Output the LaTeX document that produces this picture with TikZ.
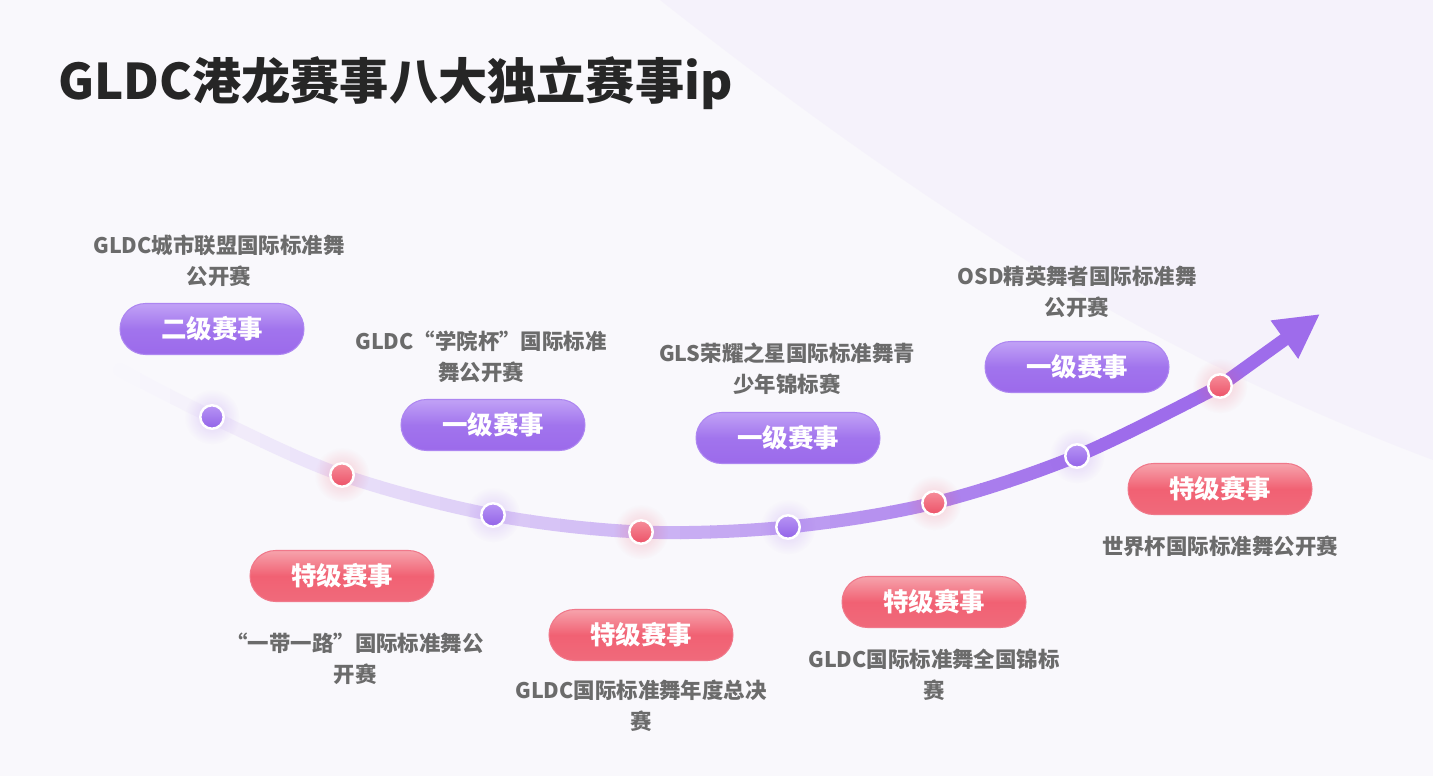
\documentclass[tikz,border=0pt]{standalone}
\usepackage{fontspec}
\setmainfont{Noto Sans CJK SC}
\usetikzlibrary{arrows.meta,fadings}

\definecolor{bgcol}{HTML}{F9F8FC}
\definecolor{bgright}{HTML}{F5F2FB}
\definecolor{titlecol}{HTML}{262626}
\definecolor{labcol}{HTML}{6B6B6B}
\definecolor{trackcol}{HTML}{9E6CEB}
\definecolor{pillptop}{HTML}{C1A2F6}
\definecolor{pillpmid}{HTML}{A174ED}
\definecolor{pillpbot}{HTML}{9C6AEB}
\definecolor{pillpedge}{HTML}{AD86F1}
\definecolor{pillrtop}{HTML}{F6A3AC}
\definecolor{pillrmid}{HTML}{F16173}
\definecolor{pillrbot}{HTML}{F06A7B}
\definecolor{pillredge}{HTML}{F0788A}
\definecolor{dotptop}{HTML}{B794F4}
\definecolor{dotpbot}{HTML}{9263E8}
\definecolor{dotrtop}{HTML}{F68E9A}
\definecolor{dotrbot}{HTML}{EC5167}

\tikzfading[name=softglow, inner color=transparent!72, outer color=transparent!100]

\begin{document}
\begin{tikzpicture}[
  x=0.02cm, y=-0.02cm,
  line cap=round,
  line join=round,
  track/.style={
    line width=7.4pt
  },
  pillp/.style={
    rounded corners=0.51cm,
    minimum width=3.68cm,
    minimum height=1.02cm,
    inner sep=0pt,
    draw=pillpedge,
    line width=0.6pt,
    top color=pillptop,
    bottom color=pillpbot,
    middle color=pillpmid,
    text=white,
    font=\fontsize{14.5}{14.5}\selectfont\bfseries
  },
  pillr/.style={
    rounded corners=0.51cm,
    minimum width=3.68cm,
    minimum height=1.02cm,
    inner sep=0pt,
    draw=pillredge,
    line width=0.6pt,
    top color=pillrtop,
    bottom color=pillrbot,
    middle color=pillrmid,
    text=white,
    font=\fontsize{14.5}{14.5}\selectfont\bfseries
  },
  dotp/.style={
    circle,
    draw=white,
    line width=1.4pt,
    minimum size=0.47cm,
    inner sep=0pt,
    top color=dotptop,
    bottom color=dotpbot
  },
  dotr/.style={
    circle,
    draw=white,
    line width=1.4pt,
    minimum size=0.47cm,
    inner sep=0pt,
    top color=dotrtop,
    bottom color=dotrbot
  },
  lab/.style={
    align=center,
    text=labcol,
    inner sep=0pt,
    font=\fontsize{12.2}{17.6}\selectfont\bfseries
  }
]
\useasboundingbox (0,0) rectangle (1433,776);

% Background
\fill[bgcol] (0,0) rectangle (1433,776);
\fill[bgright] (660,0) .. controls (800,110) and (900,180) .. (1010,250)
  .. controls (1150,340) and (1300,410) .. (1433,460) -- (1433,0) -- cycle;

% Title
\node[anchor=west, text=titlecol, font=\fontsize{28}{28}\selectfont\bfseries]
  (title) at (52,83) {GLDC港龙赛事八大独立赛事ip};

% Track points
\coordinate (c0) at (120,370);
\coordinate (c1) at (212,417);
\coordinate (c2) at (342,475);
\coordinate (c3) at (493,515);
\coordinate (c4) at (641,532);
\coordinate (c5) at (788,527);
\coordinate (c6) at (934,503);
\coordinate (c7) at (1077,456);
\coordinate (c8) at (1220,386);
\coordinate (tip) at (1320,314);

% Track, fading in from the left
\foreach \i in {0,...,37} {
  \pgfmathsetmacro\xa{110+\i*30}
  \pgfmathsetmacro\pc{min(100,1+99*(max(0,\xa-110)/970)^1.2)}
  \begin{scope}
    \clip (\xa,0) rectangle (\xa+31,776);
    \draw[track, trackcol!\pc!bgcol]
      plot[smooth, tension=0.55] coordinates
      {(c0) (c1) (c2) (c3) (c4) (c5) (c6) (c7) (c8)};
  \end{scope}
}
\draw[track, trackcol, -{Triangle[length=25pt, width=25pt]}] (c8) -- (tip);

% Glow behind the dots
\foreach \c/\g in {c1/trackcol, c2/dotrbot, c3/trackcol, c4/dotrbot,
                   c5/trackcol, c6/dotrbot, c7/trackcol, c8/dotrbot}
  \fill[\g, path fading=softglow] (\c) circle (0.55cm);

% Dots
\node[dotp] (d1) at (c1) {};
\node[dotr] (d2) at (c2) {};
\node[dotp] (d3) at (c3) {};
\node[dotr] (d4) at (c4) {};
\node[dotp] (d5) at (c5) {};
\node[dotr] (d6) at (c6) {};
\node[dotp] (d7) at (c7) {};
\node[dotr] (d8) at (c8) {};

% Level pills
\node[pillp] (p1) at (212,329)  {二级赛事};
\node[pillr] (p2) at (342,576)  {特级赛事};
\node[pillp] (p3) at (493,425)  {一级赛事};
\node[pillr] (p4) at (641,635)  {特级赛事};
\node[pillp] (p5) at (788,438)  {一级赛事};
\node[pillr] (p6) at (934,602)  {特级赛事};
\node[pillp] (p7) at (1077,367) {一级赛事};
\node[pillr] (p8) at (1220,489) {特级赛事};

% Event names
\node[lab] (l1) at (219,261)  {GLDC城市联盟国际标准舞\\公开赛};
\node[lab] (l3) at (481,357)  {GLDC“学院杯”国际标准\\舞公开赛};
\node[lab] (l5) at (787,369)  {GLS荣耀之星国际标准舞青\\少年锦标赛};
\node[lab] (l7) at (1077,292) {OSD精英舞者国际标准舞\\公开赛};
\node[lab] (l2) at (355,659)  {“一带一路”国际标准舞公\\开赛};
\node[lab] (l4) at (641,706)  {GLDC国际标准舞年度总决\\赛};
\node[lab] (l6) at (934,675)  {GLDC国际标准舞全国锦标\\赛};
\node[lab] (l8) at (1220,546) {世界杯国际标准舞公开赛};

\end{tikzpicture}
\end{document}
